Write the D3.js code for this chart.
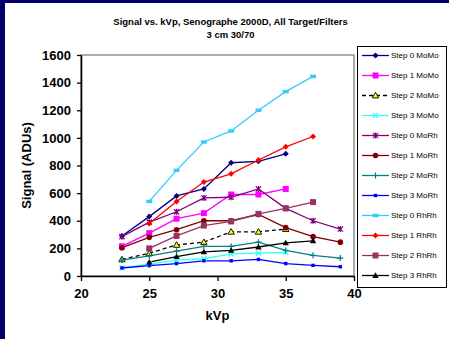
<!DOCTYPE html>
<html>
<head>
<meta charset="utf-8">
<script src="https://cdn.jsdelivr.net/npm/d3@7"></script>
<style>
  html, body { margin: 0; padding: 0; background: #fff; }
  svg { display: block; }
  text { font-family: "Liberation Sans", Arial, sans-serif; }
</style>
</head>
<body>
<script>
// kVp settings measured for each target/filter combination
const kvpMoMo = [23, 25, 27, 29, 31, 33, 35];
const kvpMoRh = [23, 25, 27, 29, 31, 33, 35, 37, 39];
const kvpRhRh = [25, 27, 29, 31, 33, 35, 37];

// Mean signal (ADUs) per step of the phantom
const step0MoMo = [290, 430, 580, 630, 820, 830, 885];
const step1MoMo = [215, 310, 415, 455, 590, 590, 630];
const step2MoMo = [120, 165, 225, 245, 320, 320, 340];
const step3MoMo = [60, 85, 115, 125, 160, 165, 170];
const step0MoRh = [285, 390, 465, 565, 570, 630, 490, 400, 340];
const step1MoRh = [205, 280, 335, 400, 400, 445, 350, 285, 245];
const step2MoRh = [115, 145, 180, 215, 215, 245, 185, 150, 130];
const step3MoRh = [58, 75, 90, 110, 110, 120, 90, 77, 67];
const step0RhRh = [540, 765, 970, 1050, 1200, 1335, 1445];
const step1RhRh = [380, 540, 680, 740, 840, 935, 1010];
const step2RhRh = [200, 290, 365, 395, 450, 490, 535];
const step3RhRh = [100, 140, 175, 185, 210, 240, 255];

const seriesNames = [
  "Step 0 MoMo", "Step 1 MoMo", "Step 2 MoMo", "Step 3 MoMo",
  "Step 0 MoRh", "Step 1 MoRh", "Step 2 MoRh", "Step 3 MoRh",
  "Step 0 RhRh", "Step 1 RhRh", "Step 2 RhRh", "Step 3 RhRh"
];
const xTicks = [20, 25, 30, 35, 40];
const yTicks = [0, 200, 400, 600, 800, 1000, 1200, 1400, 1600];

const title1 = "Signal vs. kVp, Senographe 2000D, All Target/Filters";
const title2 = "3 cm 30/70";
const xTitle = "kVp";
const yTitle = "Signal (ADUs)";

// Series styling
const styles = [
  { color: "#000080", marker: "diamond" },
  { color: "#FF00FF", marker: "square" },
  { color: "#000000", marker: "triangle", fill: "#FFFF00", dash: "4,3" },
  { color: "#33FFFF", marker: "x" },
  { color: "#800080", marker: "star" },
  { color: "#800000", marker: "circle" },
  { color: "#008080", marker: "plus" },
  { color: "#0000FF", marker: "smallsquare" },
  { color: "#33CCFF", marker: "bar" },
  { color: "#FF0000", marker: "diamond" },
  { color: "#993366", marker: "square" },
  { color: "#000000", marker: "triangle" }
];
const xs = [kvpMoMo, kvpMoMo, kvpMoMo, kvpMoMo, kvpMoRh, kvpMoRh, kvpMoRh, kvpMoRh, kvpRhRh, kvpRhRh, kvpRhRh, kvpRhRh];
const ys = [step0MoMo, step1MoMo, step2MoMo, step3MoMo, step0MoRh, step1MoRh, step2MoRh, step3MoRh, step0RhRh, step1RhRh, step2RhRh, step3RhRh];

const series = seriesNames.map((name, i) => ({
  name, ...styles[i],
  points: xs[i].map((k, j) => ({ x: k, y: ys[i][j] }))
}));

const W = 449, H = 339;
const svg = d3.select("body").append("svg").attr("width", W).attr("height", H);

// Frame
svg.append("rect").attr("width", W).attr("height", H).attr("fill", "#fff");
svg.append("rect").attr("x", 0).attr("y", 0).attr("width", 5).attr("height", H).attr("fill", "#000066");
svg.append("rect").attr("x", 0).attr("y", 0).attr("width", W).attr("height", 3).attr("fill", "#000066");

const x = d3.scaleLinear().domain([20, 40]).range([81, 354]);
const y = d3.scaleLinear().domain([0, 1600]).range([276, 55]);

// Title
svg.append("text").attr("x", 230.5).attr("y", 25).attr("text-anchor", "middle")
  .attr("font-size", 9.5).attr("font-weight", "bold").text(title1);
svg.append("text").attr("x", 230.5).attr("y", 37.5).attr("text-anchor", "middle")
  .attr("font-size", 9.5).attr("font-weight", "bold").text(title2);

// Plot area border
svg.append("rect").attr("x", x(20)).attr("y", y(1600))
  .attr("width", x(40) - x(20)).attr("height", y(0) - y(1600))
  .attr("fill", "none").attr("stroke", "#909090").attr("stroke-width", 1.5);

// Axes
const yAxis = svg.append("g").attr("transform", `translate(${x(20)},0)`)
  .call(d3.axisLeft(y).tickValues(yTicks).tickFormat(d3.format("d"))
    .tickSize(4).tickPadding(6).tickSizeOuter(0));
const xAxis = svg.append("g").attr("transform", `translate(0,${y(0)})`)
  .call(d3.axisBottom(x).tickValues(xTicks).tickFormat(d3.format("d"))
    .tickSize(5).tickPadding(8).tickSizeOuter(0));
[xAxis, yAxis].forEach(a => {
  a.select(".domain").attr("stroke", "#000").attr("stroke-width", 1.6);
  a.selectAll(".tick line").attr("stroke", "#000").attr("stroke-width", 1.3);
  a.selectAll(".tick text").attr("font-size", 13).attr("font-weight", "bold")
    .attr("fill", "#000").attr("font-family", "Liberation Sans, Arial, sans-serif");
});

svg.append("text").attr("x", x(30)).attr("y", 320).attr("text-anchor", "middle")
  .attr("font-size", 13).attr("font-weight", "bold").text(xTitle);
svg.append("text").attr("transform", `translate(31,${(y(0) + y(1600)) / 2}) rotate(-90)`)
  .attr("text-anchor", "middle").attr("font-size", 13).attr("font-weight", "bold").text(yTitle);

// Marker drawing
function drawMarker(g, s, cx, cy) {
  const c = s.color;
  switch (s.marker) {
    case "diamond":
      g.append("path").attr("d", `M${cx},${cy - 3}L${cx + 3},${cy}L${cx},${cy + 3}L${cx - 3},${cy}Z`).attr("fill", c);
      break;
    case "square":
      g.append("rect").attr("x", cx - 3).attr("y", cy - 3).attr("width", 6).attr("height", 6).attr("fill", c);
      break;
    case "smallsquare":
      g.append("rect").attr("x", cx - 1.7).attr("y", cy - 1.7).attr("width", 3.4).attr("height", 3.4).attr("fill", c);
      break;
    case "bar":
      g.append("rect").attr("x", cx - 3).attr("y", cy - 1.7).attr("width", 6).attr("height", 3.4).attr("fill", c);
      break;
    case "triangle":
      g.append("path").attr("d", `M${cx},${cy - 3.2}L${cx + 3.2},${cy + 2.4}L${cx - 3.2},${cy + 2.4}Z`)
        .attr("fill", s.fill || c).attr("stroke", c).attr("stroke-width", s.fill ? 0.9 : 0);
      break;
    case "circle":
      g.append("circle").attr("cx", cx).attr("cy", cy).attr("r", 2.8).attr("fill", c);
      break;
    case "x":
      g.append("path").attr("d", `M${cx - 2.6},${cy - 2.6}L${cx + 2.6},${cy + 2.6}M${cx - 2.6},${cy + 2.6}L${cx + 2.6},${cy - 2.6}`)
        .attr("stroke", c).attr("stroke-width", 1.3).attr("fill", "none");
      break;
    case "star":
      g.append("path").attr("d", `M${cx - 2.6},${cy - 2.6}L${cx + 2.6},${cy + 2.6}M${cx - 2.6},${cy + 2.6}L${cx + 2.6},${cy - 2.6}M${cx},${cy - 3}L${cx},${cy + 3}`)
        .attr("stroke", c).attr("stroke-width", 1.3).attr("fill", "none");
      break;
    case "plus":
      g.append("path").attr("d", `M${cx - 3},${cy}L${cx + 3},${cy}M${cx},${cy - 3}L${cx},${cy + 3}`)
        .attr("stroke", c).attr("stroke-width", 1.2).attr("fill", "none");
      break;
  }
}

// Lines and markers
const line = d3.line().x(d => x(d.x)).y(d => y(d.y));
const plot = svg.append("g");
series.forEach(s => {
  plot.append("path").datum(s.points).attr("d", line)
    .attr("fill", "none").attr("stroke", s.color).attr("stroke-width", 1.3)
    .attr("stroke-dasharray", s.dash || null);
});
series.forEach(s => {
  const g = plot.append("g");
  s.points.forEach(p => drawMarker(g, s, x(p.x), y(p.y)));
});

// Legend
const lg = svg.append("g");
lg.append("rect").attr("x", 357.5).attr("y", 46.5).attr("width", 89).attr("height", 241)
  .attr("fill", "#fff").attr("stroke", "#000").attr("stroke-width", 1);
series.forEach((s, i) => {
  const cy = 55.5 + i * 20;
  lg.append("line").attr("x1", 362).attr("x2", 389).attr("y1", cy).attr("y2", cy)
    .attr("stroke", s.color).attr("stroke-width", 1.3).attr("stroke-dasharray", s.dash || null);
  drawMarker(lg, s, 375.5, cy);
  lg.append("text").attr("x", 391).attr("y", cy).attr("dy", "0.35em")
    .attr("font-size", 8).text(s.name);
});
</script>
</body>
</html>
